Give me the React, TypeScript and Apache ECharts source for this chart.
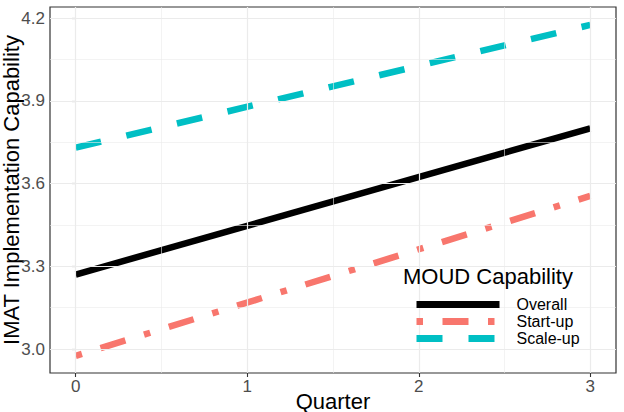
import React, { useEffect, useRef } from "react";
import * as echarts from "echarts";

const quarters = [0, 3];
const overall = [3.27, 3.8];
const startUp = [2.975, 3.555];
const scaleUp = [3.73, 4.175];
const xTicks = [0, 1, 2, 3];
const xMinor = [0.5, 1.5, 2.5];
const yTicks = [3.0, 3.3, 3.6, 3.9, 4.2];
const yMinor = [3.15, 3.45, 3.75, 4.05];

const FONT = "'Liberation Sans', Arial, Helvetica, sans-serif";

export default function App() {
  const ref = useRef<HTMLDivElement>(null);
  useEffect(() => {
    if (!ref.current) return;
    const chart = echarts.init(ref.current, null, { renderer: "svg" });
    const pts = (ys: number[]) => quarters.map((q, i) => [q, ys[i]]);
    const grid = { color: "#EBEBEB" };
    chart.setOption({
      animation: false,
      backgroundColor: "#ffffff",
      textStyle: { fontFamily: FONT },
      grid: {
        left: 50,
        right: 8,
        top: 7,
        bottom: 39,
        containLabel: false,
        outerBoundsMode: "none",
        show: true,
        borderColor: "#333333",
        borderWidth: 1.2,
        backgroundColor: "#ffffff",
        z: 0,
      },
      xAxis: {
        type: "value",
        min: -0.15,
        max: 3.15,
        name: "Quarter",
        nameLocation: "middle",
        nameGap: 17,
        nameMoveOverlap: false,
        nameTextStyle: { fontSize: 22, color: "#000000", fontFamily: FONT, verticalAlign: "top" },
        axisLine: { show: false },
        splitLine: { show: false },
        axisTick: { show: true, customValues: xTicks, length: 4, lineStyle: { color: "#333333", width: 1.1 } },
        axisLabel: { customValues: xTicks, fontSize: 17, color: "#4D4D4D", margin: 5, fontFamily: FONT },
      },
      yAxis: {
        type: "value",
        min: 2.913,
        max: 4.24,
        name: "IMAT Implementation Capability",
        nameLocation: "middle",
        nameGap: 28,
        nameMoveOverlap: false,
        nameTextStyle: { fontSize: 22, color: "#000000", fontFamily: FONT },
        axisLine: { show: false },
        splitLine: { show: false },
        axisTick: { show: true, customValues: yTicks, length: 4, lineStyle: { color: "#333333", width: 1.1 } },
        axisLabel: {
          customValues: yTicks,
          fontSize: 17,
          color: "#4D4D4D",
          margin: 5,
          fontFamily: FONT,
          formatter: (v: number) => v.toFixed(1),
        },
      },
      legend: {
        data: ["Overall", "Start-up", "Scale-up"],
        orient: "vertical",
        left: 413,
        top: 296,
        itemWidth: 83,
        itemHeight: 10,
        itemGap: 0,
        z: 6,
        backgroundColor: "transparent",
        padding: 0,
        itemStyle: { opacity: 0, borderWidth: 0 },
        lineStyle: { width: 7 },
        textStyle: { fontSize: 16, color: "#000000", fontFamily: FONT, lineHeight: 17, padding: [0, 0, 0, 12] },
      },
      graphic: [
        { type: "rect", left: 398, top: 263, shape: { width: 214, height: 85 }, style: { fill: "#ffffff" }, z: 2 },
        {
          type: "text",
          left: 403,
          top: 265,
          style: { text: "MOUD Capability", fontSize: 22, fill: "#000000", fontFamily: FONT },
          z: 6,
        },
      ],
      series: [
        {
          name: "grid",
          type: "line",
          data: pts(overall),
          symbol: "none",
          lineStyle: { opacity: 0 },
          silent: true,
          z: 1,
          markLine: {
            silent: true,
            symbol: ["none", "none"],
            label: { show: false },
            animation: false,
            data: [
              ...xMinor.map((v) => ({ xAxis: v, lineStyle: { ...grid, width: 0.6, type: "solid" } })),
              ...yMinor.map((v) => ({ yAxis: v, lineStyle: { ...grid, width: 0.6, type: "solid" } })),
              ...xTicks.map((v) => ({ xAxis: v, lineStyle: { ...grid, width: 1.2, type: "solid" } })),
              ...yTicks.map((v) => ({ yAxis: v, lineStyle: { ...grid, width: 1.2, type: "solid" } })),
            ],
          },
        },
        {
          name: "Overall",
          type: "line",
          data: pts(overall),
          symbol: "none",
          z: 3,
          lineStyle: { color: "#000000", width: 6.5, type: "solid", cap: "butt" },
          itemStyle: { color: "#000000" },
        },
        {
          name: "Start-up",
          type: "line",
          data: pts(startUp),
          symbol: "none",
          z: 3,
          lineStyle: { color: "#F8766D", width: 6.5, type: [6.5, 19.5, 26, 19.5], cap: "butt" },
          itemStyle: { color: "#F8766D" },
        },
        {
          name: "Scale-up",
          type: "line",
          data: pts(scaleUp),
          symbol: "none",
          z: 3,
          lineStyle: { color: "#00BFC4", width: 6.5, type: [26, 26], cap: "butt" },
          itemStyle: { color: "#00BFC4" },
        },
      ],
    });
    return () => chart.dispose();
  }, []);
  return <div ref={ref} style={{ position: "fixed", left: 0, top: 0, width: 624, height: 412 }} />;
}
